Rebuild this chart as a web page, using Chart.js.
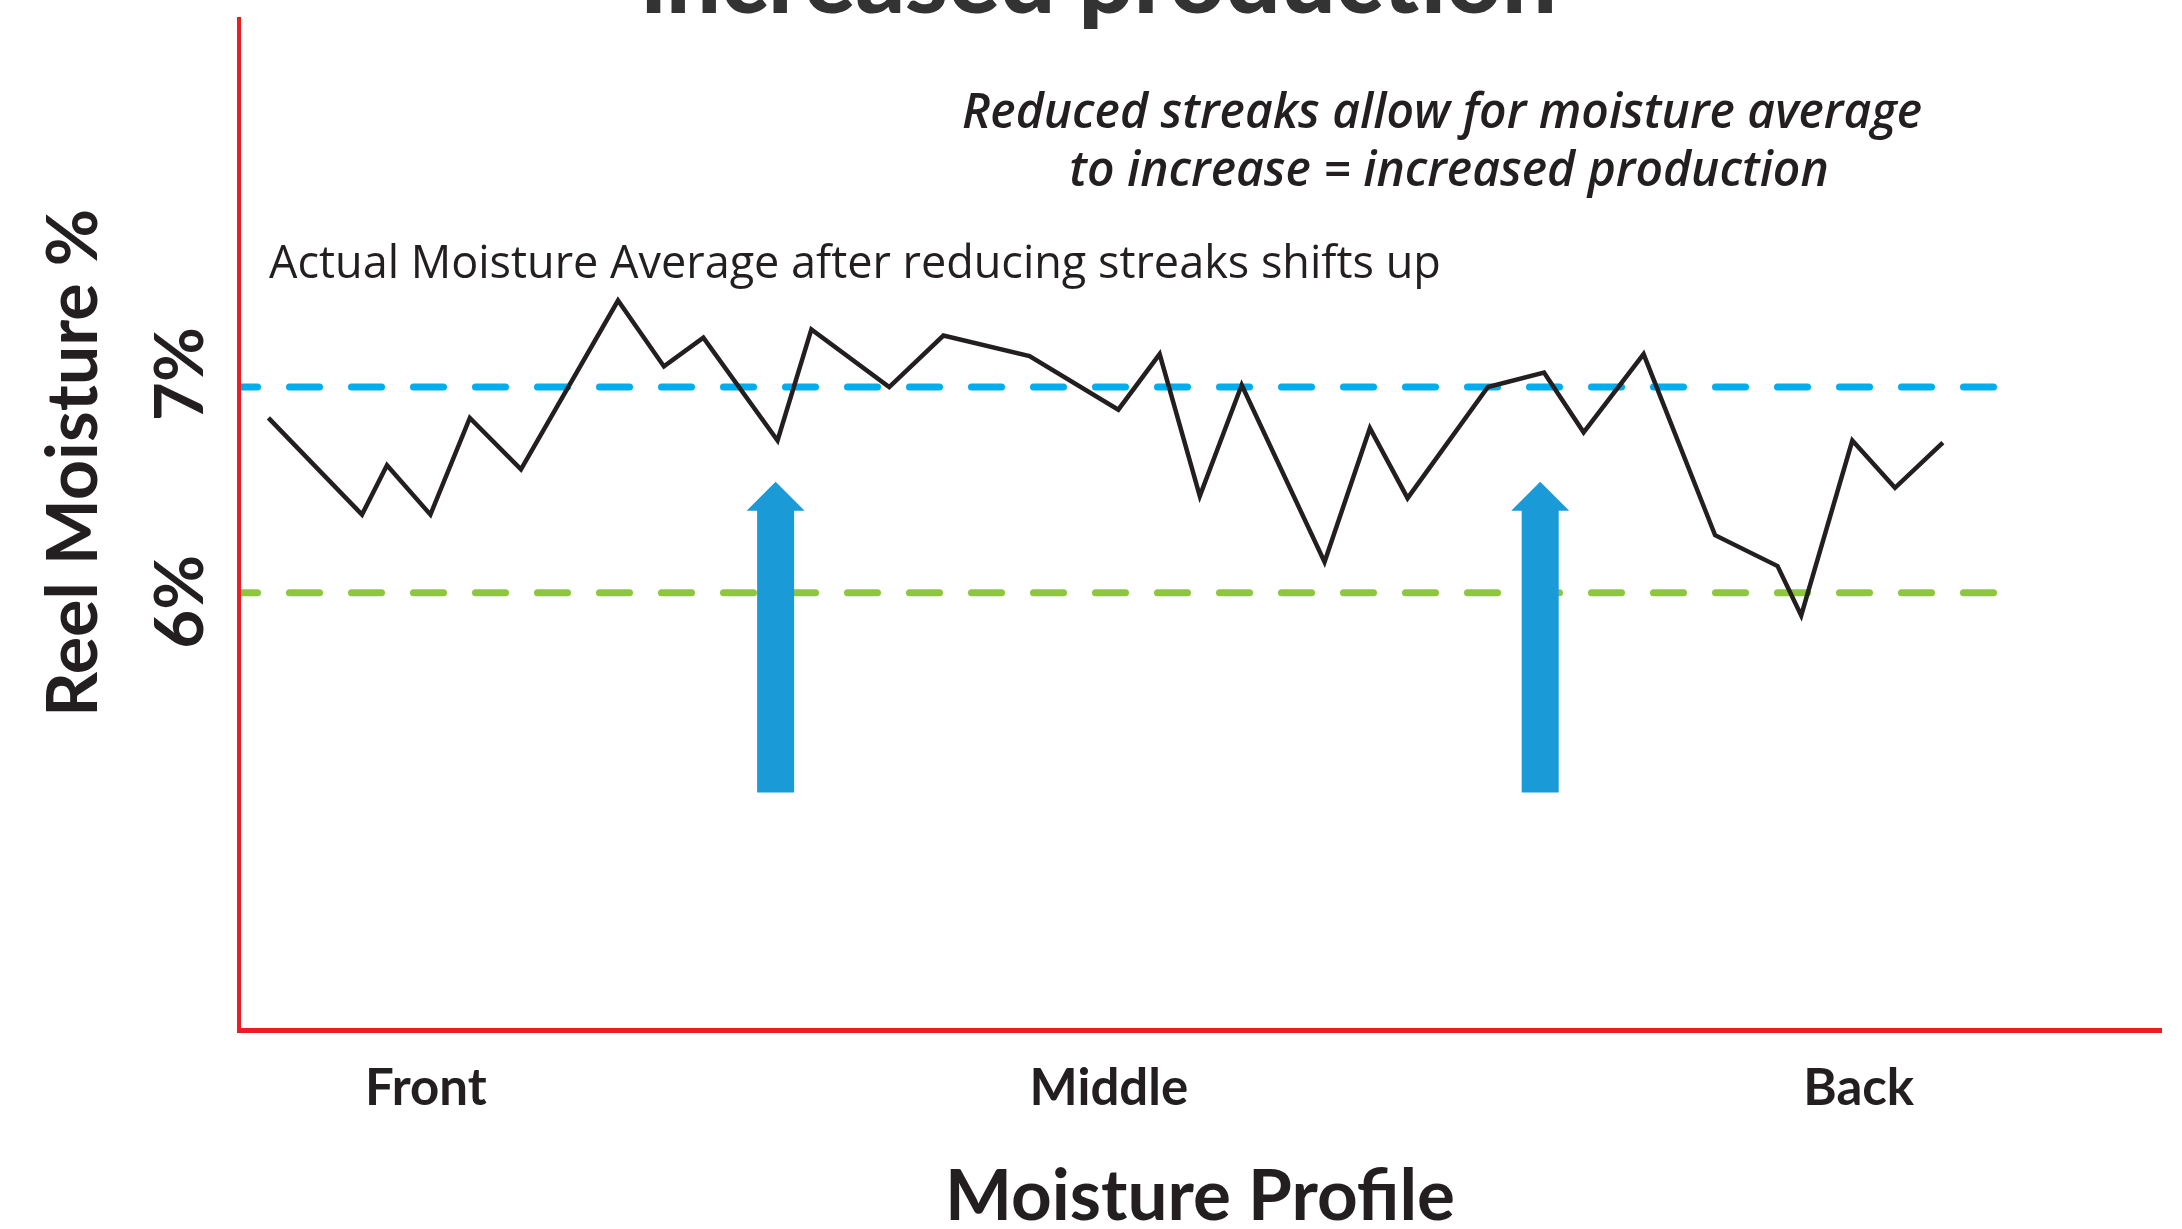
<!DOCTYPE html>
<html>
<head>
<meta charset="utf-8">
<script src="https://cdn.jsdelivr.net/npm/chart.js@4.4.1/dist/chart.umd.min.js"></script>
<style>
  html, body { margin: 0; padding: 0; background: #fff; }
</style>
</head>
<body>
<canvas id="chart" width="2182" height="1229"></canvas>
<script>
// --- DATA ---
// position across the reel (0 = left edge of axis, 100 = right edge)
const profilePos = [1.53, 6.40, 7.70, 9.96, 12.01, 14.67, 19.72, 22.11, 24.16, 28.02, 29.78,
  33.83, 36.65, 41.13, 45.75, 47.90, 49.99, 52.17, 56.48, 58.84, 60.80, 64.98, 67.90,
  69.96, 73.08, 76.80, 80.05, 81.28, 83.94, 86.16, 88.65];
// reel moisture %
const moisture = [6.85, 6.38, 6.62, 6.38, 6.85, 6.60, 7.42, 7.10, 7.24, 6.74, 7.28,
  7.00, 7.25, 7.15, 6.89, 7.16, 6.47, 7.01, 6.15, 6.80, 6.46, 7.00, 7.07,
  6.78, 7.16, 6.28, 6.13, 5.89, 6.74, 6.51, 6.73];

const newAverage = 7;   // blue dashed
const oldAverage = 6;   // green dashed
const refFrom = 0;
const refTo = 91.3;

const xTickPos = [9.72, 45.26, 84.27];
const xTickLabels = ["Front", "Middle", "Back"];
const yTickValues = [7, 6];
const yTickLabels = ["7%", "6%"];

// arrows showing the shift up
const arrowPos = [27.92, 67.70];
const arrowFrom = 5.03;
const arrowTo = 6.54;

const DARK = "#231f20";
const RED = "#ed1c24";

// --- ANNOTAZIONI ---
const notes = {
  id: "notes",
  afterDatasetsDraw(chart) {
    const { ctx, scales: { x, y } } = chart;
    ctx.save();

    // frecce blu
    ctx.fillStyle = "#1a9ad6";
    const shaftW = 37, headW = 58, headH = 29;
    arrowPos.forEach(p => {
      const cx = x.getPixelForValue(p);
      const tip = y.getPixelForValue(arrowTo);
      const base = y.getPixelForValue(arrowFrom);
      ctx.beginPath();
      ctx.moveTo(cx, tip);
      ctx.lineTo(cx + headW / 2, tip + headH);
      ctx.lineTo(cx + shaftW / 2, tip + headH);
      ctx.lineTo(cx + shaftW / 2, base);
      ctx.lineTo(cx - shaftW / 2, base);
      ctx.lineTo(cx - shaftW / 2, tip + headH);
      ctx.lineTo(cx - headW / 2, tip + headH);
      ctx.closePath();
      ctx.fill();
    });

    // etichette asse Y ruotate
    ctx.fillStyle = DARK;
    ctx.textAlign = "center";
    ctx.textBaseline = "middle";
    const nudge = { 7: -13, 6: 9 };
    yTickValues.forEach((v, i) => {
      ctx.save();
      ctx.translate(181, y.getPixelForValue(v) + nudge[v]);
      ctx.rotate(-Math.PI / 2);
      ctx.font = "bold 67px Lato";
      ctx.fillText(yTickLabels[i], 0, 0);
      ctx.restore();
    });

    ctx.save();
    ctx.translate(74, 463);
    ctx.rotate(-Math.PI / 2);
    ctx.font = "bold 70px Lato";
    ctx.fillText("Reel Moisture %", 0, 0);
    ctx.restore();

    // titolo (tagliato in alto)
    ctx.fillStyle = "#333333";
    ctx.textBaseline = "alphabetic";
    ctx.font = "900 97px Lato";
    ctx.fillText("increased production", 1099, 13);

    // note
    ctx.fillStyle = DARK;
    ctx.font = "italic 600 48px 'Open Sans'";
    ctx.fillText("Reduced streaks allow for moisture average", 1442, 128);
    ctx.fillText("to increase = increased production", 1449, 186);

    ctx.textAlign = "left";
    ctx.font = "400 45px 'Open Sans'";
    ctx.fillText("Actual Moisture Average after reducing streaks shifts up", 269, 278);

    ctx.restore();
  }
};

Chart.defaults.font.family = "Lato";
Chart.defaults.color = DARK;

new Chart(document.getElementById("chart"), {
  type: "line",
  data: {
    datasets: [
      {
        label: "Moisture",
        data: profilePos.map((p, i) => ({ x: p, y: moisture[i] })),
        borderColor: DARK,
        borderWidth: 4.5,
        borderJoinStyle: "miter",
        pointRadius: 0,
        tension: 0
      },
      {
        label: "New average",
        data: [{ x: refFrom, y: newAverage }, { x: refTo, y: newAverage }],
        borderColor: "#00aeef",
        borderWidth: 7,
        borderDash: [30, 32],
        borderDashOffset: 11.5,
        borderCapStyle: "round",
        pointRadius: 0
      },
      {
        label: "Old average",
        data: [{ x: refFrom, y: oldAverage }, { x: refTo, y: oldAverage }],
        borderColor: "#8dc63f",
        borderWidth: 7,
        borderDash: [30, 32],
        borderDashOffset: 11.5,
        borderCapStyle: "round",
        pointRadius: 0
      }
    ]
  },
  options: {
    responsive: false,
    animation: false,
    layout: { padding: { left: 239, top: 19, right: 21, bottom: 0 } },
    plugins: { legend: { display: false }, tooltip: { enabled: false } },
    scales: {
      x: {
        type: "linear",
        min: 0,
        max: 100,
        grid: { display: false },
        border: { color: RED, width: 5, z: 1 },
        afterFit: (s) => { s.height = 199; s.paddingLeft = 0; s.paddingRight = 0; },
        afterBuildTicks: (axis) => { axis.ticks = xTickPos.map(v => ({ value: v })); },
        ticks: {
          padding: 20,
          font: { size: 51, weight: "bold" },
          color: DARK,
          maxRotation: 0,
          autoSkip: false,
          callback: (v) => xTickLabels[xTickPos.indexOf(v)]
        },
        title: {
          display: true,
          text: "Moisture Profile",
          color: DARK,
          font: { size: 71, weight: "bold", lineHeight: 1 },
          padding: { top: 40, bottom: -4 }
        }
      },
      y: {
        min: 3.876,
        max: 8.788,
        grid: { display: false },
        border: { color: RED, width: 4, z: 1 },
        afterFit: (s) => { s.width = 0; s.paddingTop = 0; s.paddingBottom = 0; },
        ticks: { display: false }
      }
    }
  },
  plugins: [notes]
});
</script>
</body>
</html>
